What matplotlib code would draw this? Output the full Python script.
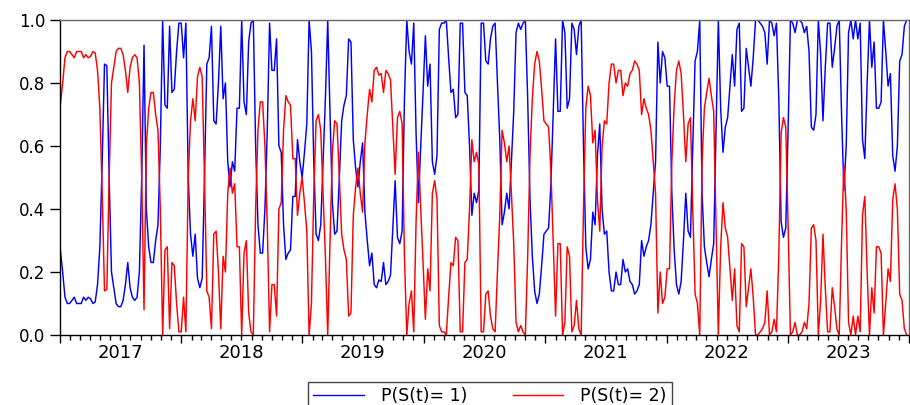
import numpy as np
import pandas as pd
import matplotlib
matplotlib.use("Agg")
import matplotlib.pyplot as plt
import matplotlib.dates as mdates
from matplotlib.ticker import NullFormatter, FixedLocator

# Smoothed regime probability P(S(t)=1), weekly, 2017-2023
p1 = [
    0.27, 0.20, 0.12, 0.10, 0.10, 0.11, 0.12, 0.10, 0.10, 0.10,
    0.12, 0.11, 0.12, 0.115, 0.10, 0.105, 0.16, 0.28, 0.55, 0.86,
    0.855, 0.50, 0.20, 0.15, 0.10, 0.09, 0.09, 0.11, 0.16, 0.23,
    0.15, 0.12, 0.11, 0.12, 0.20, 0.50, 0.92, 0.40, 0.28, 0.23,
    0.23, 0.30, 0.35, 0.60, 1.00, 0.73, 0.72, 0.98, 0.77, 0.78,
    0.90, 0.99, 0.99, 0.88, 0.99, 0.50, 0.32, 0.25, 0.32, 0.18,
    0.15, 0.18, 0.50, 0.86, 0.88, 0.98, 0.68, 0.67, 0.80, 0.98,
    0.75, 0.80, 0.55, 0.47, 0.55, 0.52, 0.72, 0.72, 1.00, 0.74,
    0.70, 0.93, 0.99, 1.00, 0.60, 0.35, 0.26, 0.26, 0.40, 0.65,
    0.99, 0.84, 0.84, 0.94, 0.60, 0.58, 0.35, 0.24, 0.26, 0.27,
    0.44, 0.44, 0.62, 0.55, 0.50, 0.58, 0.67, 1.00, 0.90, 0.55,
    0.32, 0.30, 0.35, 0.55, 0.75, 1.00, 0.70, 0.42, 0.32, 0.33,
    0.50, 0.68, 0.73, 0.76, 0.94, 0.93, 0.62, 0.53, 0.47, 0.55,
    0.61, 0.39, 0.30, 0.22, 0.26, 0.16, 0.15, 0.175, 0.17, 0.23,
    0.16, 0.17, 0.19, 0.34, 0.49, 0.31, 0.29, 0.33, 0.75, 1.00,
    0.90, 0.86, 0.99, 0.64, 0.42, 0.60, 0.77, 0.95, 0.79, 0.86,
    0.55, 0.51, 0.57, 0.97, 0.99, 0.99, 1.00, 0.88, 0.77, 0.78,
    0.69, 0.70, 0.99, 0.99, 0.77, 0.76, 0.60, 0.38, 0.45, 0.42,
    0.46, 0.99, 0.99, 0.87, 0.86, 0.94, 0.98, 0.99, 0.80, 0.62,
    0.35, 0.39, 0.45, 0.40, 0.55, 0.71, 0.96, 0.99, 0.97, 0.99,
    1.00, 0.75, 0.43, 0.25, 0.14, 0.10, 0.13, 0.22, 0.32, 0.33,
    0.34, 0.48, 0.71, 0.94, 0.71, 0.71, 1.00, 0.96, 0.72, 0.75,
    0.99, 0.97, 0.89, 0.98, 1.00, 0.60, 0.28, 0.21, 0.24, 0.39,
    0.35, 0.57, 0.67, 0.40, 0.32, 0.33, 0.20, 0.14, 0.14, 0.20,
    0.16, 0.16, 0.24, 0.20, 0.21, 0.17, 0.16, 0.13, 0.14, 0.16,
    0.30, 0.25, 0.28, 0.30, 0.35, 0.45, 0.55, 0.93, 0.80, 0.90,
    0.88, 0.79, 0.79, 0.45, 0.27, 0.16, 0.13, 0.17, 0.30, 0.45,
    0.33, 0.31, 0.60, 0.87, 0.90, 1.00, 0.45, 0.28, 0.23, 0.185,
    0.24, 0.29, 0.65, 1.00, 0.72, 0.58, 0.66, 0.69, 0.79, 0.89,
    0.79, 0.97, 0.99, 0.71, 0.72, 0.91, 0.85, 0.79, 0.88, 1.00,
    1.00, 0.99, 0.98, 0.96, 0.86, 1.00, 0.99, 0.95, 0.99, 0.75,
    0.36, 0.31, 0.34, 0.65, 1.00, 0.99, 0.96, 1.00, 1.00, 0.99,
    0.96, 0.98, 0.90, 0.66, 0.65, 0.70, 1.00, 0.89, 0.68, 0.85,
    0.99, 0.99, 0.85, 0.91, 0.98, 1.00, 0.70, 0.46, 0.60, 0.96,
    1.00, 0.94, 1.00, 0.94, 0.99, 0.62, 0.56, 0.80, 1.00, 0.85,
    0.93, 0.72, 0.72, 0.74, 1.00, 0.90, 0.79, 0.83, 0.57, 0.52,
    0.60, 0.87, 0.89, 0.98, 1.00,
]
# Two-regime model: P(S(t)=2) is the complement of P(S(t)=1)
p1 = np.array(p1)
p2 = 1.0 - p1

series_labels = ["P(S(t)= 1)", "P(S(t)= 2)"]
years = [2017, 2018, 2019, 2020, 2021, 2022, 2023]
yticks = [0.0, 0.2, 0.4, 0.6, 0.8, 1.0]
ytick_labels = ["0.0", "0.2", "0.4", "0.6", "0.8", "1.0"]

dates = pd.date_range("2017-01-02", periods=len(p1), freq="7D")

W, H = 910, 405
fig = plt.figure(figsize=(W / 100, H / 100), dpi=100)
ax = fig.add_axes([60 / W, 1 - 335 / H, 849 / W, 315 / H])

ax.plot(dates, p1, color="#0000FF", lw=1.05, label=series_labels[0])
ax.plot(dates, p2, color="#FF0000", lw=1.05, label=series_labels[1])

ax.set_xlim(pd.Timestamp("2017-01-01"), pd.Timestamp("2024-01-01"))
ax.set_ylim(0, 1)

# x axis: long ticks at year boundaries, short monthly ticks, year labels centred
ax.xaxis.set_major_locator(mdates.YearLocator())
ax.xaxis.set_minor_locator(mdates.MonthLocator())
ax.xaxis.set_major_formatter(NullFormatter())
ax.tick_params(axis="x", which="major", length=5.5, width=1.0, direction="out", color="black")
ax.tick_params(axis="x", which="minor", length=3.3, width=1.0, direction="out", color="black")

sec = ax.secondary_xaxis("bottom")
mids = [mdates.date2num(pd.Timestamp(f"{y}-07-02")) for y in years]
sec.xaxis.set_major_locator(FixedLocator(mids))
sec.set_xticklabels([str(y) for y in years], fontsize=13)
sec.tick_params(axis="x", length=0, pad=6.5)
sec.spines["bottom"].set_visible(False)

ax.set_yticks(yticks)
ax.set_yticklabels(ytick_labels, fontsize=12)
ax.tick_params(axis="y", length=7, width=1.0, direction="out", pad=3.5)

for side in ("left", "bottom"):
    ax.spines[side].set_color("black")
    ax.spines[side].set_linewidth(1.0)
for side in ("top", "right"):
    ax.spines[side].set_color("#666666")
    ax.spines[side].set_linewidth(1.0)

leg = fig.legend(
    loc="upper center",
    bbox_to_anchor=(490 / W, 1 - 382 / H),
    ncol=2,
    fontsize=12.5,
    frameon=True,
    fancybox=False,
    edgecolor="#444444",
    framealpha=1,
    handlelength=2.9,
    handletextpad=1.0,
    columnspacing=2.6,
    borderpad=0.3,
    borderaxespad=0,
)
leg.get_frame().set_linewidth(1.0)
for line in leg.get_lines():
    line.set_linewidth(1.0)

fig.savefig("out.png", dpi=100)
